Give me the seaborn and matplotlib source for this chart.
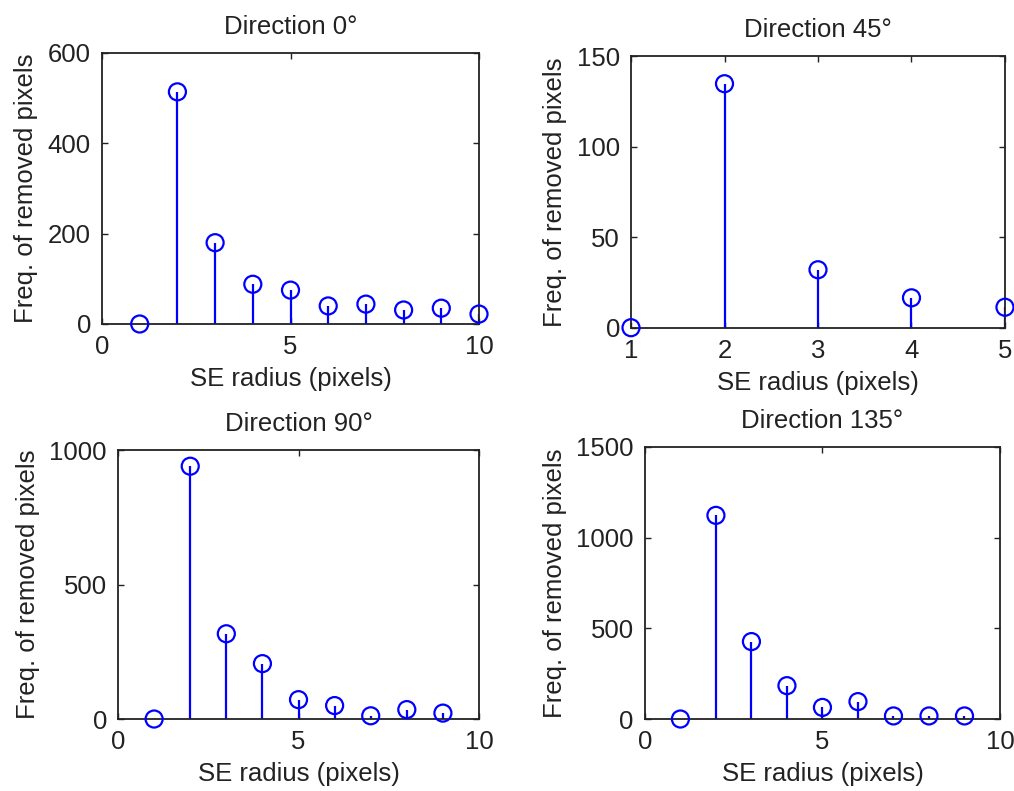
import matplotlib
matplotlib.use("Agg")
import matplotlib.pyplot as plt
import seaborn as sns
import pandas as pd

# data
radius_10 = [1, 2, 3, 4, 5, 6, 7, 8, 9, 10]
freq_0 = [0, 514, 180, 88, 75, 40, 44, 31, 35, 22]
radius_5 = [1, 2, 3, 4, 5]
freq_45 = [0, 134.7, 32, 16.5, 11.3]
radius_9 = [1, 2, 3, 4, 5, 6, 7, 8, 9]
freq_90 = [0, 940, 317, 206, 72, 50, 12, 35, 22]
freq_135 = [0, 1123, 427, 184, 64, 96, 17, 17, 17]

titles = ["Direction 0°", "Direction 45°", "Direction 90°", "Direction 135°"]
xlims = [(0, 10), (1, 5), (0, 10), (0, 10)]
ylims = [(0, 600), (0, 150), (0, 1000), (0, 1500)]
xticks = [[0, 5, 10], [1, 2, 3, 4, 5], [0, 5, 10], [0, 5, 10]]
yticks = [[0, 200, 400, 600], [0, 50, 100, 150], [0, 500, 1000], [0, 500, 1000, 1500]]
xlabel = "SE radius (pixels)"
ylabel = "Freq. of removed pixels"

sns.set_theme(style="ticks")
plt.rcParams['font.family'] = ['Liberation Sans', 'DejaVu Sans']

fig = plt.figure(figsize=(10.14, 7.91), dpi=100)
positions = [
    [0.1006, 0.5904, 0.3718, 0.3426],
    [0.6223, 0.5857, 0.3688, 0.3435],
    [0.1164, 0.0910, 0.3560, 0.3400],
    [0.6360, 0.0910, 0.3502, 0.3439],
]
datasets = [(radius_10, freq_0), (radius_5, freq_45), (radius_9, freq_90), (radius_9, freq_135)]

fs = 18.5
for i, (xs, ys) in enumerate(datasets):
    ax = fig.add_axes(positions[i])
    df = pd.DataFrame({"x": xs, "y": ys})
    ax.vlines(df["x"], 0, df["y"], colors="#0000ff", linewidth=1.6, zorder=2)
    sns.scatterplot(data=df, x="x", y="y", ax=ax, marker="o", s=150,
                    facecolors="none", edgecolors="#0000ff", linewidth=1.6,
                    clip_on=False, zorder=3, legend=False)
    ax.set_xlim(*xlims[i])
    ax.set_ylim(*ylims[i])
    ax.set_xticks(xticks[i])
    ax.set_yticks(yticks[i])
    ax.set_title(titles[i], fontsize=fs, color="#222222", pad=14)
    ax.set_xlabel(xlabel, fontsize=fs, color="#222222", labelpad=6)
    ax.set_ylabel(ylabel, fontsize=fs, color="#222222", labelpad=7)
    ax.tick_params(direction="in", top=True, right=True, length=4, width=1,
                   labelsize=fs, labelcolor="#222222", color="#222222", pad=8)
    for sp in ax.spines.values():
        sp.set_visible(True)
        sp.set_linewidth(1.3)
        sp.set_color("#222222")

fig.savefig("out.png", dpi=100)
